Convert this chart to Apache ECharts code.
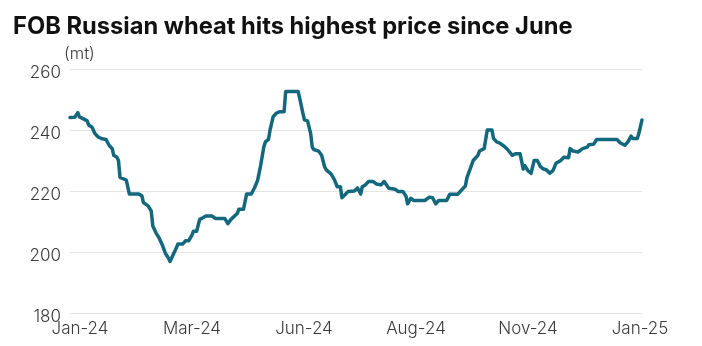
<!DOCTYPE html>
<html>
<head>
<meta charset="utf-8">
<script src="https://cdn.jsdelivr.net/npm/echarts@6/dist/echarts.min.js"></script>
<style>
  html, body { margin: 0; padding: 0; background: #fff; }
  #chart { width: 702px; height: 346px; }
</style>
</head>
<body>
<div id="chart"></div>
<script>
// Days since 1 Jan 2024
const days = [
  0, 3, 5, 6, 8, 11, 12, 14, 16, 18, 20, 23, 25, 27, 28, 30, 31, 32, 33, 36,
  38, 44, 46, 47, 50, 52, 53, 55, 57, 59, 61, 63, 64, 66, 68, 69, 72, 74, 76, 78,
  79, 81, 83, 85, 87, 91, 93, 99, 101, 103, 107, 108, 111, 113, 116, 118, 120, 122, 124, 125,
  127, 128, 130, 132, 134, 137, 138, 146, 147, 149, 150, 152, 154, 155, 156, 159, 161, 163, 164, 167,
  169, 171, 173, 174, 175, 178, 182, 184, 186, 187, 189, 191, 194, 196, 199, 201, 202, 204, 208, 210,
  213, 215, 216, 218, 220, 227, 230, 232, 234, 236, 241, 243, 248, 250, 253, 254, 256, 258, 261, 262,
  265, 266, 267, 270, 271, 273, 275, 278, 280, 283, 285, 288, 290, 291, 293, 295, 297, 299, 301, 303,
  305, 307, 309, 311, 314, 316, 319, 320, 322, 325, 328, 331, 332, 335, 337, 350, 352, 355, 357, 359,
  360, 363, 364, 366
];
// FOB Russian wheat price ($/mt)
const prices = [
  244.1, 244.2, 245.7, 244.3, 243.8, 243.0, 241.6, 241.0, 238.8, 237.7, 237.2, 236.9, 235.0, 233.9, 231.7, 231.1, 230.0, 224.5, 223.9, 223.6,
  219.0, 219.0, 218.4, 216.2, 215.1, 213.4, 208.5, 206.3, 204.6, 202.4, 199.6, 198.0, 196.9, 199.1, 201.3, 202.6, 202.6, 203.7, 203.7, 205.5,
  206.8, 206.8, 210.7, 211.2, 211.8, 211.8, 211.0, 211.0, 209.3, 210.7, 212.6, 214.0, 214.0, 219.0, 219.0, 221.0, 223.4, 228.4, 234.4, 236.1,
  236.9, 240.0, 244.4, 245.5, 246.0, 246.0, 252.6, 252.6, 250.4, 245.5, 243.3, 243.0, 238.8, 234.4, 233.6, 233.1, 231.7, 227.8, 226.9, 225.6,
  223.9, 221.4, 221.4, 217.8, 218.4, 219.8, 220.0, 221.0, 219.0, 221.4, 222.0, 223.1, 223.1, 222.3, 222.0, 223.1, 222.8, 220.9, 220.6, 219.8,
  219.8, 218.3, 215.8, 217.6, 216.9, 216.9, 218.0, 217.8, 215.8, 216.9, 216.9, 218.9, 218.9, 220.0, 221.7, 224.4, 227.2, 230.0, 231.7, 233.1,
  233.9, 234.4, 240.0, 240.0, 237.2, 236.1, 235.7, 234.6, 233.6, 231.7, 232.2, 232.2, 227.2, 228.3, 226.7, 225.8, 230.0, 230.0, 228.0, 227.2,
  226.9, 225.8, 226.7, 229.1, 230.0, 231.1, 230.9, 233.9, 233.1, 232.8, 233.9, 234.4, 235.2, 235.3, 236.9, 236.9, 235.8, 235.0, 236.1, 238.0,
  237.2, 237.2, 238.9, 243.3
];
const tickLabels = ['Jan-24', 'Mar-24', 'Jun-24', 'Aug-24', 'Nov-24', 'Jan-25'];
const yTicks = { min: 180, max: 260, step: 20 };

const chart = echarts.init(document.getElementById('chart'), null, { renderer: 'canvas' });
const labelColor = '#3a3a3a';
const font = 'Inter, Roboto, "Noto Sans", sans-serif';

chart.setOption({
  backgroundColor: '#ffffff',
  animation: false,
  title: {
    text: 'FOB Russian wheat hits highest price since June',
    left: 8,
    top: 10,
    textStyle: { fontFamily: font, fontSize: 23.7, fontWeight: 'bold', color: '#111' }
  },
  graphic: [{
    type: 'text',
    left: 64,
    top: 46,
    style: { text: '(mt)', fontFamily: font, fontSize: 16.5, fontWeight: 300, fill: labelColor }
  }],
  grid: [
    { left: 70, right: 60, top: 69, bottom: 33, containLabel: false },
    { left: 80, right: 62, top: 72.5, bottom: 29.5, containLabel: false }
  ],
  xAxis: [
    {
      type: 'value', gridIndex: 0, min: 0, max: 366,
      axisLine: { show: false }, axisTick: { show: false },
      axisLabel: { show: false }, splitLine: { show: false }
    },
    {
      type: 'category', gridIndex: 1, data: tickLabels, boundaryGap: false,
      axisLine: { show: false }, axisTick: { show: false }, splitLine: { show: false },
      axisLabel: { interval: 0, margin: 4, fontFamily: font, fontSize: 17, fontWeight: 300, color: labelColor }
    }
  ],
  yAxis: [
    {
      type: 'value', gridIndex: 0, min: yTicks.min, max: yTicks.max, interval: yTicks.step,
      axisLine: { show: false }, axisTick: { show: false },
      axisLabel: { show: false },
      splitLine: { show: true, lineStyle: { color: '#e4e4e4', width: 1 } }
    },
    {
      type: 'value', gridIndex: 1, min: yTicks.min, max: yTicks.max, interval: yTicks.step,
      axisLine: { show: false }, axisTick: { show: false }, splitLine: { show: false },
      axisLabel: { margin: 19, fontFamily: font, fontSize: 17, fontWeight: 300, color: labelColor }
    }
  ],
  series: [{
    type: 'line',
    xAxisIndex: 0,
    yAxisIndex: 0,
    data: days.map((d, i) => [d, prices[i]]),
    showSymbol: false,
    symbol: 'none',
    lineStyle: { color: '#13687e', width: 3.5, join: 'round', cap: 'round' },
    itemStyle: { color: '#13687e' }
  }]
});
</script>
</body>
</html>
